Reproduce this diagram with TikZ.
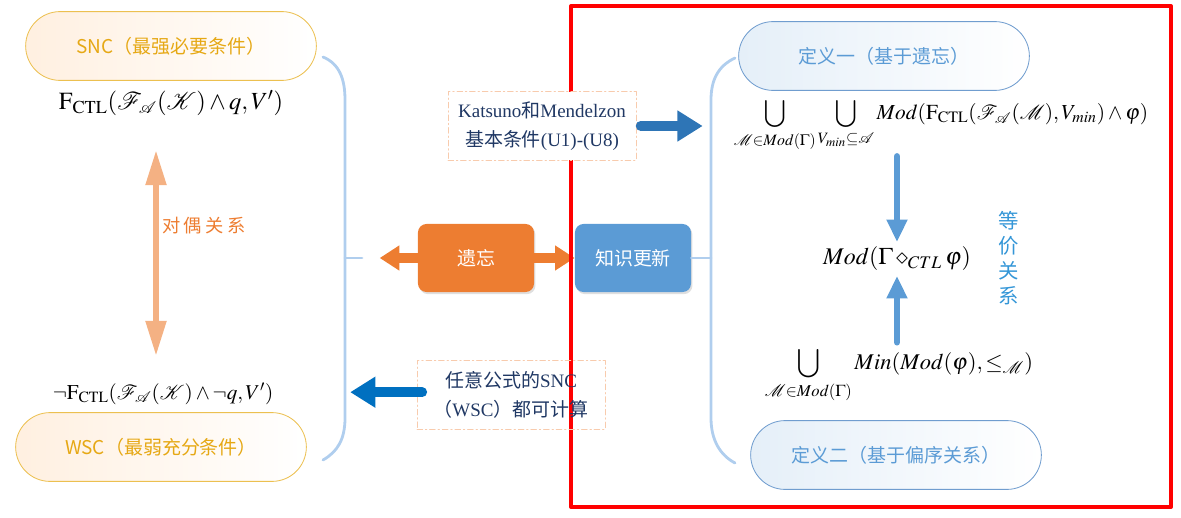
\documentclass[tikz,border=0pt]{standalone}
\usepackage{mathptmx}
\usepackage{mathrsfs}
\usepackage{fontspec}
\setmainfont{Liberation Serif}
\newfontfamily\cjk{Noto Sans CJK SC}
\usetikzlibrary{arrows.meta,shapes.misc,shadows,positioning}
\definecolor{goldtext}{RGB}{230,168,20}
\definecolor{goldline}{RGB}{236,192,80}
\definecolor{peach}{RGB}{244,177,131}
\definecolor{orng}{RGB}{237,125,49}
\definecolor{sky}{RGB}{91,155,213}
\definecolor{skyline}{RGB}{112,157,207}
\definecolor{bracecol}{RGB}{176,206,238}
\definecolor{navytext}{RGB}{32,56,100}
\definecolor{deepblue}{RGB}{46,117,182}
\definecolor{oceanblue}{RGB}{0,112,192}
\definecolor{dashcol}{RGB}{248,203,173}
\definecolor{eqblue}{RGB}{52,150,215}
\newcommand{\Fctl}{\mathrm{F}_{\mathrm{CTL}}}
\newcommand{\sA}{\mathscr{A}}
\newcommand{\dgap}{\hspace{2.5pt}}
\begin{document}
\begin{tikzpicture}[x=0.025cm, y=-0.025cm, line join=round, line cap=round,
  pill/.style={rounded rectangle, minimum width=7.5cm, minimum height=1.72cm, line width=0.6pt, font=\cjk\fontsize{13.5}{15}\selectfont},
  sncpill/.style={pill, draw=goldline, text=goldtext, left color=orange!12, right color=white},
  defpill/.style={pill, draw=skyline, text=sky, left color=sky!16, right color=white},
  keybox/.style={rounded corners=6pt, minimum width=2.9cm, minimum height=1.7cm, text=white, font=\cjk\fontsize{13.5}{15}\selectfont, drop shadow={opacity=0.25, shadow xshift=1pt, shadow yshift=-1.5pt}},
  notebox/.style={draw=dashcol, line width=0.6pt, dash pattern=on 4pt off 2pt on 1pt off 2pt, text=navytext, align=center, minimum width=4.7cm, minimum height=1.72cm, font=\fontsize{13.5}{20.5}\selectfont},
  formula/.style={font=\fontsize{#1}{20}\selectfont},
  bracket/.style={draw=bracecol, line width=2pt},
  peacharrow/.style={draw=peach, line width=4.3pt, {Triangle[length=25pt,width=14pt]}-{Triangle[length=25pt,width=14pt]}},
  orngarrow/.style={draw=orng, line width=7pt, -{Triangle[length=14pt,width=17pt]}},
  bluearrow/.style={line width=7pt, -{Triangle[length=18pt,width=21pt]}},
  skyarrow/.style={draw=sky, line width=4.3pt, -{Triangle[length=16pt,width=14pt]}}]
\useasboundingbox (0,0) rectangle (1181,518);

\node[sncpill] (snc) at (171,46) {SNC（最强必要条件）};
\node[sncpill] (wsc) at (161,447) {WSC（最弱充分条件）};
\node[formula=17.5] (sncf) at (171,103) {$\Fctl(\mathscr{F}_{\sA}(\mathscr{K})\wedge q,V')$};
\node[formula=15] (wscf) at (163,394) {$\neg\Fctl(\mathscr{F}_{\sA}(\mathscr{K})\wedge\neg q,V')$};
\path (156,150) coordinate (dtop) (156,356) coordinate (dbot);
\draw[peacharrow] (dtop) -- (dbot);
\node[text=orng, font=\cjk\fontsize{13}{14}\selectfont] (dual) at (204,226) {对\dgap 偶\dgap 关\dgap 系};

\draw[bracket] (323,57) .. controls (340,64) and (345,80) .. (345,100) -- (345,418) .. controls (345,440) and (337,452) .. (323,460);
\draw[bracket] (345,258) -- (362,258);
\draw[bracket] (735,58) .. controls (718,66) and (711,80) .. (711,100) -- (711,418) .. controls (711,440) and (720,455) .. (735,463);

\node[keybox, fill=orng] (forget) at (476,258) {遗忘};
\node[keybox, fill=sky] (update) at (633,258) {知识更新};
\draw[bracket] (update.east) -- (711,258);
\draw[orngarrow] (forget.east) -- (update.west);
\draw[orngarrow] (forget.west) -- ++(-38,0);

\draw[red, line width=2.8pt, line cap=butt] (571,6) rectangle (1171,507);

\node[notebox, fill=white] (km) at (542,126) {Katsuno{\cjk 和}Mendelzon\\{\cjk 基本条件}(U1)-(U8)};
\draw[bluearrow, draw=deepblue] ([xshift=3pt]km.east) -- ++(62,0);
\node[notebox] (any) at (511,395) {{\cjk 任意公式的}SNC\\{\cjk （}WSC{\cjk ）都可计算}};
\draw[bluearrow, draw=oceanblue] ([xshift=4pt,yshift=2pt]any.west) -- ++(-72,0);

\node[defpill] (def1) at (884,56) {定义一（基于遗忘）};
\node[defpill] (def2) at (896,455) {定义二（基于偏序关系）};
\node[formula=15.2] (f1) at (941,125) {$\displaystyle\bigcup_{\mathscr{M}\in Mod(\Gamma)}\bigcup_{V_{min}\subseteq\sA} Mod(\Fctl(\mathscr{F}_{\sA}(\mathscr{M}),V_{min})\wedge\varphi)$};
\node[formula=17] (mod) at (897,259) {$Mod(\Gamma\diamond_{CTL}\varphi)$};
\node[formula=16] (f2) at (899,375) {$\displaystyle\bigcup_{\mathscr{M}\in Mod(\Gamma)} Min(Mod(\varphi),\leq_{\mathscr{M}})$};
\draw[skyarrow] (f1.south -| mod.north) -- (mod.north);
\draw[skyarrow] (f2.north -| mod.south) -- (mod.south);
\node[text=eqblue, align=center, font=\cjk\fontsize{14.5}{17.7}\selectfont] (equiv) at (1009,258) {等\\价\\关\\系};
\end{tikzpicture}
\end{document}
